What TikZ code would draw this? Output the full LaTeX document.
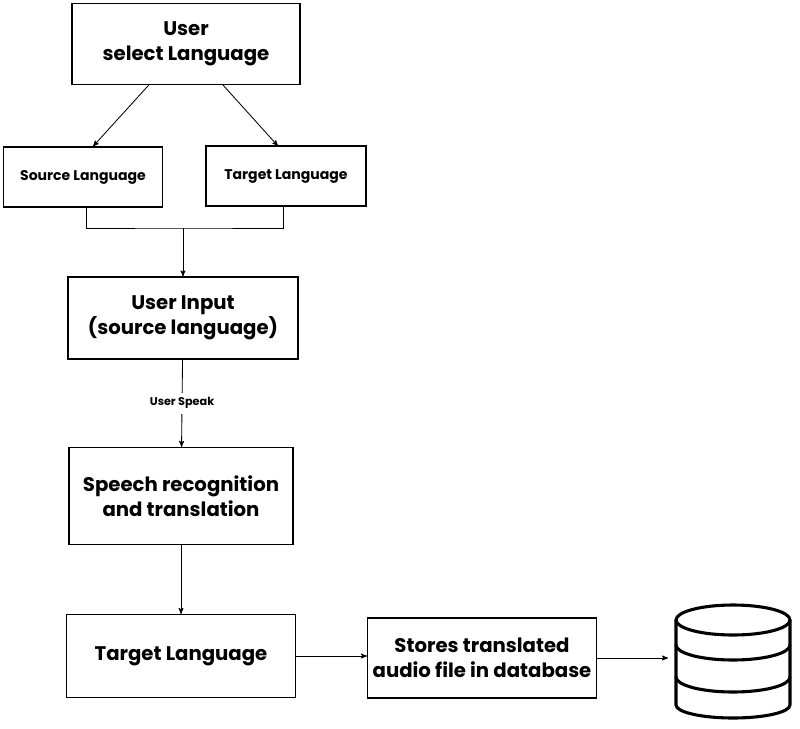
\documentclass[tikz,border=0pt]{standalone}
\usepackage{fontspec}
\setmainfont{Poppins}
\usetikzlibrary{positioning,arrows}
\tikzset{
  box/.style={draw,thick,align=center,font=\bfseries},
  big/.style={font=\fontsize{14}{18}\selectfont\bfseries},
  small/.style={font=\fontsize{10}{12}\selectfont\bfseries}
}
\begin{document}
\begin{tikzpicture}[x=0.025cm,y=-0.025cm,->,>=stealth',semithick]
  \useasboundingbox (0,0) rectangle (800,728);

  \node[box,big,minimum width=228*0.025cm,minimum height=81*0.025cm] (user) at (186,44) {User\\select Language};
  \node[box,small,minimum width=159*0.025cm,minimum height=60*0.025cm] (src) at (83,177) {Source Language};
  \node[box,small,minimum width=160*0.025cm,minimum height=60*0.025cm] (tgt) at (286,176) {Target Language};
  \node[box,big,minimum width=230*0.025cm,minimum height=82*0.025cm] (input) at (183,318) {User Input\\(source language)};
  \node[box,big,minimum width=224*0.025cm,minimum height=97*0.025cm] (speech) at (181,496) {Speech recognition\\and translation};
  \node[box,big,minimum width=229*0.025cm,minimum height=83*0.025cm] (out) at (181,656) {Target Language};
  \node[box,big,minimum width=229*0.025cm,minimum height=80*0.025cm] (store) at (482,658) {Stores translated\\audio file in database};
  \coordinate (db) at (668,658);
  \coordinate (join) at (183,228);

  \draw (user) -- (src.north east -| 93,147);
  \draw (user) -- (278,146);
  \draw[-] (src.south -| 86,207) |- (join) -| (tgt.south -| 283,206);
  \draw (join) -- (input);
  \draw (input) -- node[fill=white,font=\fontsize{8}{9}\selectfont\bfseries] {User Speak} (speech);
  \draw (speech) -- (out);
  \draw (out) -- (store.west |- out);
  \draw (store) -- (db);

  % database
  \begin{scope}[-,line width=2.2pt]
    \draw (676,620) -- (676,705) arc[start angle=180,end angle=0,x radius=57,y radius=13] -- (790,620);
    \draw (733,620) ellipse[x radius=57,y radius=15];
    \draw (676,645) arc[start angle=180,end angle=0,x radius=57,y radius=15];
    \draw (676,677) arc[start angle=180,end angle=0,x radius=57,y radius=15];
  \end{scope}
\end{tikzpicture}
\end{document}
